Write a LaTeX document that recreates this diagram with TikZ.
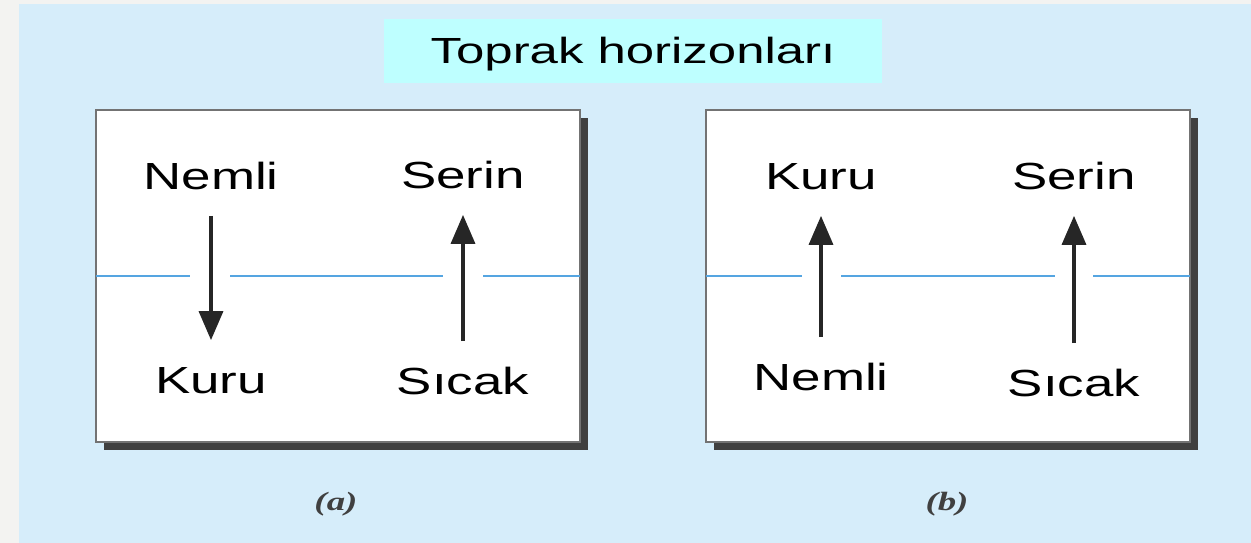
\documentclass[tikz,border=0pt]{standalone}
\usepackage{fontspec}
\setmainfont{Liberation Sans}[FakeStretch=1.4]
\newfontfamily\capfont{Liberation Serif}[FakeStretch=1.4]
\usetikzlibrary{arrows.meta}
\definecolor{bgblue}{RGB}{214,237,250}
\definecolor{titlecyan}{RGB}{190,255,255}
\definecolor{lineblue}{RGB}{85,165,225}
\definecolor{stripgray}{RGB}{243,243,241}

\begin{document}
\begin{tikzpicture}[x=0.02cm, y=-0.02cm,
        lbl/.style={font=\fontsize{21.5}{24}\selectfont, inner xsep=0pt, inner ysep=0.52cm, text height=15.4pt, text depth=0pt},
        arr/.style={-{Triangle[length=0.58cm, width=0.48cm]}, line width=1.9pt, black!85},
        horizon/.style={lineblue, line width=1.5pt},
        panel/.style={fill=white, draw=black!55, line width=0.9pt},
        shade/.style={fill=black!75},
        caption/.style={font=\capfont\bfseries\itshape\fontsize{15}{18}\selectfont, text=black!75}]
        \fill[stripgray] (0,0) rectangle (1251,543);
        \fill[bgblue] (19,4) rectangle (1251,543);
        \useasboundingbox (0,0) rectangle (1251,543);
        \node[fill=titlecyan, minimum width=9.96cm, minimum height=1.28cm, text height=14.8pt, text depth=0pt, font=\fontsize{20.7}{24}\selectfont] (title) at (633,51) {Toprak horizonları};
        % (a)
        \fill[shade] (104,118) rectangle (588,450);
        \draw[panel] (96,110) rectangle (580,442);
        \draw[horizon] (96,276) -- (190,276) (230,276) -- (443,276) (483,276) -- (580,276);
        \node[lbl] (nemliA) at (211,176) {Nemli};
        \node[lbl] (kuruA) at (211,380) {Kuru};
        \node[lbl] (serinA) at (463,175) {Serin};
        \node[lbl] (sicakA) at (463,381) {Sıcak};
        \draw[arr] (nemliA) -- (kuruA);
        \draw[arr] (sicakA) -- (serinA);
        \node[caption] (capA) at (336,504) {(a)};
        % (b)
        \fill[shade] (714,118) rectangle (1198,450);
        \draw[panel] (706,110) rectangle (1190,442);
        \draw[horizon] (706,276) -- (802,276) (841,276) -- (1055,276) (1093,276) -- (1190,276);
        \node[lbl] (kuruB) at (821,176) {Kuru};
        \node[lbl] (serinB) at (1074,176) {Serin};
        \node[lbl] (nemliB) at (821,377) {Nemli};
        \node[lbl] (sicakB) at (1074,383) {Sıcak};
        \draw[arr] (nemliB) -- (kuruB);
        \draw[arr] (sicakB) -- (serinB);
        \node[caption] (capB) at (947,504) {(b)};
\end{tikzpicture}
\end{document}
